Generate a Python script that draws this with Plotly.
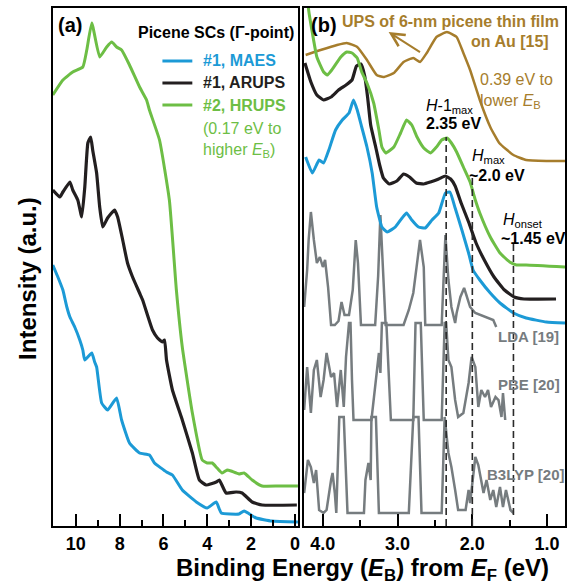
import plotly.graph_objects as go

W, H = 572, 585
FONT = "Liberation Sans, Arial, sans-serif"

C_MAES = "#1c9ad6"
C_ARUPS = "#231f20"
C_HRUPS = "#6dbe45"
C_UPS = "#a67d2c"
C_CALC = "#767c7f"

# ---------------- panel (a): wide range spectra ----------------
maes_a_E = [11.05, 10.82, 10.59, 10.41, 10.27, 10.05, 9.82, 9.68, 9.59, 9.27, 9.14, 9.05, 8.82, 8.55, 8.14,
            7.91, 7.55, 7.09, 6.64, 6.41, 5.86, 5.59, 5.14, 4.5, 4.0, 3.59, 3.36, 2.55, 2.32, 1.77, 1.05, -0.14]
maes_a_I = [261, 249, 236, 219, 209, 199, 186, 176, 166, 173, 164, 159, 123, 116, 128,
            106, 83, 73, 71, 63, 54, 51, 36, 24, 18, 24, 13, 12, 15, 8, 5, 4]

arups_a_E = [11.05, 10.73, 10.59, 10.27, 10.14, 9.91, 9.73, 9.59, 9.45, 9.32, 9.23, 9.05, 8.91, 8.77, 8.55,
             8.23, 8.09, 7.86, 7.64, 7.41, 7.09, 6.95, 6.5, 6.27, 6.05, 5.95, 5.86, 5.59, 5.14, 4.68,
             4.36, 4.05, 3.59, 3.45, 3.14, 2.68, 2.41, 1.95, 1.5, -0.09]
arups_a_I = [336, 329, 334, 344, 336, 326, 309, 339, 383, 389, 376, 353, 319, 299, 308,
             316, 309, 286, 263, 249, 233, 226, 196, 188, 184, 186, 166, 136, 106, 73,
             46, 41, 44, 46, 33, 34, 33, 24, 21, 21]

hrups_a_E = [11.05, 10.59, 10.14, 9.68, 9.5, 9.27, 8.91, 8.59, 8.36, 8.14, 7.91, 7.55, 7.09, 6.77, 6.64,
             6.18, 5.73, 5.41, 5.14, 4.68, 4.23, 4.0, 3.77, 3.55, 3.32, 3.09, 2.91, 2.55, 2.32, 1.95,
             1.5, 0.73, -0.14]
hrups_a_I = [431, 446, 454, 459, 476, 503, 469, 479, 484, 479, 476, 461, 439, 426, 416,
             386, 326, 236, 179, 113, 66, 63, 63, 58, 53, 56, 55, 52, 53, 46,
             40, 40, 40]

# ---------------- panel (b): valence band region ----------------
ups_b_E = [4.23, 4.03, 3.81, 3.68, 3.54, 3.41, 3.28, 3.19, 3.05, 2.92, 2.79, 2.70, 2.61, 2.48, 2.34,
           2.21, 2.12, 2.03, 1.90, 1.76, 1.64, 1.45, 1.28, 1.01, 0.76]
ups_b_I = [471, 476, 481, 483, 479, 466, 451, 449, 453, 464, 468, 464, 473, 489, 494,
           489, 473, 456, 426, 399, 383, 371, 366, 365, 365]

hrups_b_E = [4.22, 4.19, 4.14, 4.08, 3.99, 3.94, 3.88, 3.76, 3.68, 3.61, 3.54, 3.48, 3.41, 3.32, 3.25,
             3.21, 3.16, 3.05, 2.96, 2.88, 2.81, 2.74, 2.65, 2.56, 2.48, 2.41, 2.34, 2.28, 2.21, 2.12,
             2.03, 1.96, 1.90, 1.76, 1.63, 1.50, 1.41, 1.28, 0.76]
hrups_b_I = [545, 516, 493, 469, 454, 451, 456, 469, 474, 473, 468, 454, 443, 423, 396,
             379, 373, 379, 393, 406, 401, 389, 378, 373, 379, 386, 388, 383, 374, 359,
             344, 326, 313, 289, 273, 264, 261, 261, 259]

arups_b_E = [4.24, 4.16, 4.08, 3.99, 3.89, 3.79, 3.69, 3.61, 3.55, 3.49, 3.44, 3.40, 3.36, 3.29, 3.24,
             3.19, 3.11, 3.01, 2.92, 2.84, 2.75, 2.65, 2.56, 2.45, 2.36, 2.29, 2.23, 2.15, 2.05, 1.95,
             1.84, 1.71, 1.57, 1.44, 1.31, 0.88]
arups_b_I = [463, 444, 431, 426, 429, 436, 441, 446, 460, 462, 450, 428, 401, 378, 361,
             348, 342, 345, 352, 349, 343, 342, 344, 347, 350, 347, 340, 323, 304, 283,
             266, 249, 236, 229, 227, 227]

maes_b_E = [4.23, 4.14, 4.05, 3.99, 3.92, 3.83, 3.74, 3.65, 3.59, 3.54, 3.48, 3.41, 3.34, 3.28, 3.21,
            3.14, 3.03, 2.94, 2.88, 2.81, 2.72, 2.63, 2.54, 2.45, 2.36, 2.30, 2.23, 2.14, 2.05, 1.99,
            1.90, 1.76, 1.63, 1.45, 1.28, 1.01, 0.76]
maes_b_I = [369, 353, 366, 363, 376, 396, 406, 413, 426, 416, 399, 379, 353, 319, 299,
            294, 299, 308, 313, 306, 299, 298, 306, 313, 333, 334, 318, 296, 273, 256,
            246, 233, 223, 213, 208, 204, 203]

lda_E = [4.25, 4.21, 4.19, 4.16, 4.12, 4.08, 4.04, 4.00, 3.97, 3.93, 3.89, 3.84, 3.79, 3.75, 3.71,
         3.65, 3.60, 3.57, 3.56, 3.53, 3.51, 3.49, 3.30, 3.26, 3.23, 3.20, 3.16, 2.92, 2.85, 2.79,
         2.75, 2.70, 2.65, 2.63, 2.41, 2.36, 2.32, 2.28, 2.23, 2.21, 2.16, 2.11, 2.08, 2.03, 1.96,
         1.89, 1.81, 1.72, 1.68]
lda_I = [219, 256, 286, 314, 286, 263, 269, 259, 266, 239, 201, 201, 205, 224, 211,
         211, 236, 276, 286, 263, 226, 201, 201, 250, 311, 260, 201, 201, 216, 233,
         259, 286, 259, 201, 201, 291, 246, 219, 203, 213, 229, 238, 231, 219, 213,
         211, 209, 206, 199]

pbe_E = [4.25, 4.21, 4.16, 4.12, 4.08, 4.03, 3.99, 3.95, 3.89, 3.85, 3.81, 3.76, 3.72, 3.69, 3.65,
         3.63, 3.61, 3.59, 3.35, 3.29, 3.25, 3.23, 3.21, 3.15, 3.12, 3.09, 2.79, 2.76, 2.69, 2.67,
         2.65, 2.41, 2.37, 2.35, 2.32, 2.28, 2.23, 2.19, 2.12, 2.05, 2.01, 1.96, 1.92, 1.88, 1.83,
         1.79, 1.75, 1.69, 1.65, 1.61, 1.59, 1.56]
pbe_I = [116, 159, 113, 156, 166, 129, 146, 173, 149, 153, 119, 156, 119, 169, 203,
         203, 146, 106, 106, 146, 173, 153, 203, 203, 146, 106, 106, 203, 203, 146,
         106, 106, 203, 203, 166, 159, 126, 109, 113, 143, 169, 159, 119, 136, 129,
         136, 119, 129, 126, 109, 133, 106]

b3lyp_E = [4.25, 4.23, 4.20, 4.16, 4.12, 4.09, 4.05, 3.99, 3.95, 3.89, 3.87, 3.84, 3.82, 3.78, 3.72,
           3.67, 3.45, 3.43, 3.39, 3.36, 3.35, 3.29, 3.25, 2.85, 2.83, 2.79, 2.72, 2.68, 2.41, 2.37,
           2.32, 2.28, 2.23, 2.19, 2.09, 2.05, 2.03, 2.00, 1.96, 1.92, 1.89, 1.85, 1.81, 1.76, 1.72,
           1.68, 1.63, 1.59, 1.55, 1.49, 1.45]
b3lyp_I = [33, 46, 66, 59, 43, 56, 16, 13, 16, 46, 53, 33, 13, 109, 109,
           13, 13, 46, 63, 46, 109, 109, 13, 13, 41, 109, 109, 13, 13, 109,
           73, 59, 36, 16, 16, 36, 23, 46, 69, 61, 49, 33, 46, 26, 36,
           19, 39, 19, 36, 16, 13]

# energy markers (dashed lines): energy, top, bottom of line
mark_E = [2.35, 2.0, 1.45]
mark_top = [389, 348, 283]
mark_bot = [0, 0, 11]

ticks_a = [10, 8, 6, 4, 2, 0]
minor_a = [9, 7, 5, 3, 1]
ticks_b = [4.0, 3.0, 2.0, 1.0]
minor_b = [3.5, 2.5, 1.5]

legend_names = ["#1, MAES", "#1, ARUPS", "#2, HRUPS"]
legend_colors = [C_MAES, C_ARUPS, C_HRUPS]

fig = go.Figure()

def line(x, y, color, width, axis="a", shape="spline"):
    fig.add_trace(go.Scatter(
        x=x, y=y, mode="lines", showlegend=False,
        line=dict(color=color, width=width, shape=shape, smoothing=0.4),
        xaxis="x" if axis == "a" else "x2", yaxis="y" if axis == "a" else "y2",
        hoverinfo="skip"))

line(maes_a_E, maes_a_I, C_MAES, 3, "a")
line(arups_a_E, arups_a_I, C_ARUPS, 3.2, "a")
line(hrups_a_E, hrups_a_I, C_HRUPS, 3, "a")

line(lda_E, lda_I, C_CALC, 2.5, "b", "linear")
line(pbe_E, pbe_I, C_CALC, 2.5, "b", "linear")
line(b3lyp_E, b3lyp_I, C_CALC, 2.5, "b", "linear")
line(ups_b_E, ups_b_I, C_UPS, 2.5, "b")
line(maes_b_E, maes_b_I, C_MAES, 3, "b")
line(arups_b_E, arups_b_I, C_ARUPS, 3.2, "b")
line(hrups_b_E, hrups_b_I, C_HRUPS, 3, "b")

for e, t, b in zip(mark_E, mark_top, mark_bot):
    fig.add_shape(type="line", xref="x2", yref="y2", x0=e, x1=e, y0=b, y1=t,
                  line=dict(color="#2a2a2a", width=1.6, dash="7px,4px"))

def P(px, py):
    return px / W, 1 - py / H

anns = []
def ann(text, px, py, size=16, color="black", xanchor="left", bold=False, angle=0):
    x, y = P(px, py)
    if bold:
        text = f"<b>{text}</b>"
    anns.append(dict(text=text, x=x, y=y, xref="paper", yref="paper", xanchor=xanchor,
                     yanchor="middle", showarrow=False, textangle=angle,
                     font=dict(size=size, color=color, family=FONT)))

# legend of panel (a)
for i, (nm, col) in enumerate(zip(legend_names, legend_colors)):
    py = 61 + i * 22
    x0, y0 = P(163, py)
    x1, _ = P(193, py)
    fig.add_shape(type="line", xref="paper", yref="paper", x0=x0, x1=x1, y0=y0, y1=y0,
                  line=dict(color=col, width=3))
    ann(nm, 202, py, 16, col, bold=True)

ann("(a)", 70, 25, 20, xanchor="center", bold=True)
ann("(b)", 325, 25, 20, xanchor="center", bold=True)
ann("Picene SCs (Γ-point)", 297, 32, 16, xanchor="right", bold=True)
ann("(0.17 eV to", 202, 128, 16, C_HRUPS)
ann("higher <i>E</i><sub>B</sub>)", 202, 150, 16, C_HRUPS)
ann("UPS of 6-nm picene thin film", 452, 22, 16, C_UPS, "center", True)
ann("on Au [15]", 512, 42, 16, C_UPS, "center", True)
ann("0.39 eV to", 480, 80, 16, C_UPS)
ann("lower <i>E</i><sub>B</sub>", 480, 101, 16, C_UPS)
ann("<i>H</i>-1<sub>max</sub>", 425, 106, 16)
ann("2.35 eV", 425, 123, 16, bold=True)
ann("<i>H</i><sub>max</sub>", 472, 157, 16)
ann("~2.0 eV", 469, 175, 16, bold=True)
ann("<i>H</i><sub>onset</sub>", 503, 220, 16)
ann("~1.45 eV", 501, 238, 16, bold=True)
ann("LDA [19]", 498, 336, 15, C_CALC, bold=True)
ann("PBE [20]", 498, 384, 15, C_CALC, bold=True)
ann("B3LYP [20]", 487, 474, 15, C_CALC, bold=True)
ann("Binding Energy (<i>E</i><sub>B</sub>) from <i>E</i><sub>F</sub> (eV)", 364, 569, 24, xanchor="center", bold=True)
ann("Intensity (a.u.)", 27, 278, 24, xanchor="center", bold=True, angle=-90)

# arrow pointing to the thin-film UPS curve
anns.append(dict(x=3.12, y=494, ax=2.68, ay=473, xref="x2", yref="y2", axref="x2", ayref="y2",
                 text="", showarrow=True, arrowhead=5, arrowsize=1.3, arrowwidth=2,
                 arrowcolor=C_UPS))

y_dom = [1 - 526 / H, 1 - 8 / H]
common_x = dict(ticks="inside", ticklen=12, tickwidth=2, tickcolor="black",
                showline=True, mirror=True, linewidth=2, linecolor="black",
                showgrid=False, zeroline=False,
                tickfont=dict(size=18, color="black", family=FONT, weight="bold"))
common_y = dict(range=[0, 518], showticklabels=False, ticks="", showline=True, mirror=True,
                linewidth=2, linecolor="black", showgrid=False, zeroline=False, domain=y_dom)

fig.update_layout(
    width=W, height=H, margin=dict(l=0, r=0, t=0, b=0),
    paper_bgcolor="white", plot_bgcolor="white",
    font=dict(family=FONT, color="black"),
    xaxis=dict(domain=[53 / W, 299 / W], range=[11.05, -0.14], tickvals=ticks_a,
               minor=dict(tickvals=minor_a, ticks="inside", ticklen=6, tickwidth=2, tickcolor="black"),
               **common_x),
    yaxis=dict(anchor="x", **common_y),
    xaxis2=dict(domain=[305 / W, 567 / W], range=[4.253, 0.76], tickvals=ticks_b, tickformat=".1f",
                anchor="y2",
                minor=dict(tickvals=minor_b, ticks="inside", ticklen=6, tickwidth=2, tickcolor="black"),
                **common_x),
    yaxis2=dict(anchor="x2", **common_y),
    annotations=anns,
    showlegend=False,
)

fig.write_html("out.html", config={"displayModeBar": False},
               post_script="document.body.style.margin='0px';")
